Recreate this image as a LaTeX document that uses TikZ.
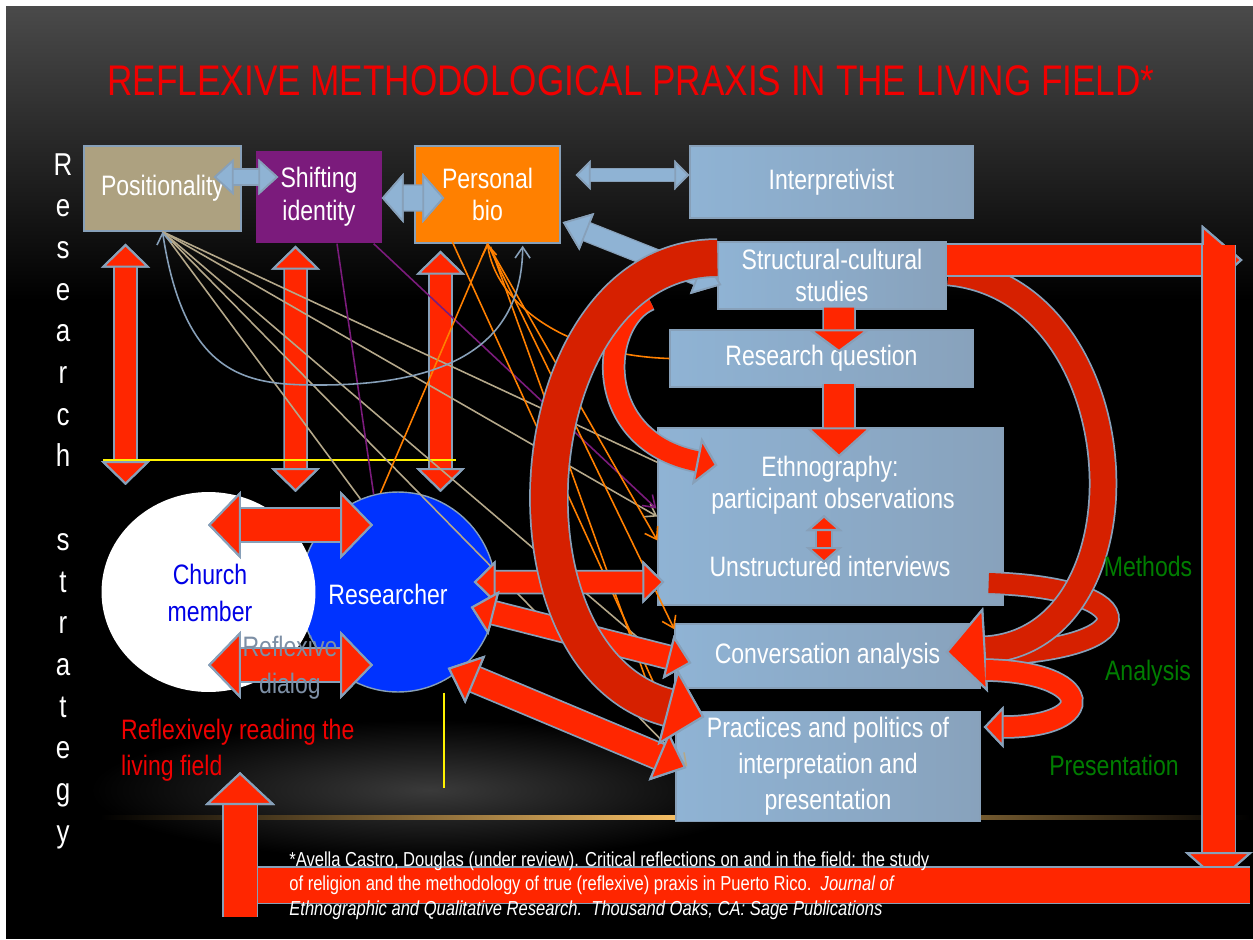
\documentclass[tikz,border=0pt]{standalone}
\usepackage{fontspec}
\setmainfont[FakeStretch=0.82]{Liberation Sans}
\usetikzlibrary{arrows.meta,shapes.geometric,calc}

\definecolor{hotred}{RGB}{255,38,0}
\definecolor{deepred}{RGB}{214,32,0}
\definecolor{rim}{RGB}{135,160,185}
\definecolor{paleblue}{RGB}{143,179,212}
\definecolor{boxshade}{RGB}{136,162,188}
\definecolor{tanbox}{RGB}{173,161,128}
\definecolor{tanline}{RGB}{181,168,138}
\definecolor{plum}{RGB}{123,27,124}
\definecolor{tangerine}{RGB}{255,128,0}
\definecolor{royal}{RGB}{0,51,255}
\definecolor{churchblue}{RGB}{0,0,230}
\definecolor{dialoggray}{RGB}{125,143,165}
\definecolor{leafgreen}{RGB}{0,125,0}
\definecolor{titlered}{RGB}{240,0,0}
\definecolor{slatetop}{RGB}{74,74,74}
\definecolor{glow}{RGB}{58,58,58}
\definecolor{gold}{RGB}{245,190,100}

\tikzset{
  box/.style={draw=rim, line width=0.8pt, text=white, align=center,
    font=\fontsize{16}{18.7}\selectfont},
  bluebox/.style={box, left color=paleblue, right color=boxshade},
  plaintext/.style={text=white, font=\fontsize{16}{18.7}\selectfont},
  greenword/.style={text=leafgreen, font=\fontsize{16}{18.7}\selectfont},
  wire/.style={line width=0.9pt},
  barb/.style={-{Straight Barb[length=0.22cm,width=0.3cm]}},
  backbarb/.style={{Straight Barb[length=0.22cm,width=0.3cm]}-},
  barbs/.style={{Straight Barb[length=0.22cm,width=0.3cm]}-{Straight Barb[length=0.22cm,width=0.3cm]}},
  redband/.style={draw=hotred, line width=#1, preaction={draw=rim, line width=#1+0.07cm}},
  redarrow/.style n args={3}{redband=#1,
    -{Triangle[width=#2,length=#3,fill=hotred,color=rim,line width=1.2pt]}},
  redboth/.style n args={3}{redband=#1,
    {Triangle[width=#2,length=#3,fill=hotred,color=rim,line width=1.2pt]}-{Triangle[width=#2,length=#3,fill=hotred,color=rim,line width=1.2pt]}},
  paleboth/.style n args={3}{draw=paleblue, line width=#1, preaction={draw=rim, line width=#1+0.05cm},
    {Triangle[width=#2,length=#3,fill=paleblue,color=rim,line width=1pt]}-{Triangle[width=#2,length=#3,fill=paleblue,color=rim,line width=1pt]}},
}

\begin{document}
\begin{tikzpicture}[x=0.02cm, y=-0.02cm]
\useasboundingbox (0,0) rectangle (1253,939);

% slide background
\fill[white] (0,0) rectangle (1253,939);
\fill[black] (6,7) rectangle (1253,939);
\shade[top color=slatetop, bottom color=black] (6,7) rectangle (1253,300);
\shade[inner color=glow, outer color=black] (430,790) ellipse [x radius=340, y radius=70];
\shade[left color=black, right color=black, middle color=gold] (100,815) rectangle (1250,819);

% boxes
\node[box, fill=tanbox, minimum width=3.14cm, minimum height=1.7cm] (posit) at (162.5,188.5) {Positionality};
\node[box, draw=none, fill=plum, minimum width=2.52cm, minimum height=1.84cm] (shift) at (319,197) {Shifting\\identity};
\node[box, fill=tangerine, minimum width=2.9cm, minimum height=1.94cm] (bio) at (487.5,194.5) {Personal\\bio};
\node[bluebox, minimum width=5.66cm, minimum height=1.44cm] (interp) at (831.5,182) {Interpretivist};
\node[bluebox, minimum width=4.56cm, minimum height=1.34cm] (struct) at (832,275.5) {Structural-cultural\\studies};
\node[bluebox, minimum width=6.06cm, minimum height=1.14cm] (rq) at (821.5,358.5) {Research question};
\node[bluebox, minimum width=6.9cm, minimum height=3.54cm] (ethno) at (830.5,516.5) {};
\node[bluebox, minimum width=6.1cm, minimum height=1.28cm] (conv) at (827.5,656) {Conversation analysis};
\node[bluebox, minimum width=6.08cm, minimum height=2.02cm, font=\fontsize{16}{20.4}\selectfont] (pract) at (828,766.5)
  {Practices and politics of\\interpretation and\\presentation};
\node[plaintext] (ethnotitle) at (830,469) {Ethnography:};
\node[plaintext] (observe) at (833,501) {participant observations};
\node[plaintext] (interviews) at (830,566) {Unstructured interviews};

% the two sides of the dialog
\node[ellipse, fill=royal, draw=rim, line width=0.8pt, minimum width=3.92cm, minimum height=4cm] (res) at (398,592) {};
\node[ellipse, fill=white, minimum width=4.28cm, minimum height=4cm] (church) at (208.5,592) {};

% research strategy columns
\coordinate (floor) at (103,460);
\coordinate (floorend) at (456,460);
\draw[redboth={0.42cm}{0.98cm}{0.48cm}] ($(posit.south)+(-37,12)$) -- ($(floor)+(22.5,25)$);
\draw[redboth={0.42cm}{0.98cm}{0.48cm}] ($(shift.south)+(-23.5,2)$) -- ($(floor)+(192.5,32)$);
\draw[redboth={0.42cm}{0.98cm}{0.48cm}] ($(bio.south)+(-47,7)$) -- ($(floor)+(337.5,32)$);
\draw[yellow, line width=1.2pt] (floor) -- (floorend);
\draw[yellow, line width=1.2pt] ($(res.south)+(46,0)$) -- ++(0,95);

% pale links between the top boxes
\draw[paleboth={0.3cm}{0.72cm}{0.4cm}] ($(posit.east)+(-28,-11.5)$) -- ($(shift.west)+(23,-20)$);
\draw[paleboth={0.5cm}{1cm}{0.44cm}] ($(shift.east)+(-1,1)$) -- ($(bio.west)+(30,3.5)$);
\draw[paleboth={0.24cm}{0.6cm}{0.3cm}] ($(bio.east)+(15,-19.5)$) -- ($(interp.west)+(0,-7)$);
\draw[paleboth={0.36cm}{0.8cm}{0.52cm}] ($(bio.south east)+(2,-21.5)$) -- ($(struct.west)+(4,9.5)$);

% thin threads
\draw[wire, tanline] (posit.south) -- (res.112);
\draw[wire, tanline, barb] (posit.south) -- (ethno.west);
\draw[wire, tanline] (posit.south) -- ($(ethno.north west)+(0,35)$);
\draw[wire, tanline, barb] (posit.south) -- ($(conv.west)+(-2,11)$);
\draw[wire, tanline, barb] (posit.south) -- ($(pract.west)+(12,0)$);
\draw[wire, plum] ($(shift.south)+(18,0)$) -- (res.104);
\draw[wire, plum, barb] ($(shift.south east)+(-9,0)$) -- ($(ethno.west)+(-1,-8)$);
\draw[wire, tangerine] ($(bio.south west)+(32,-15)$) -- ($(conv.south west)+(-18,0)$);
\draw[wire, tangerine] (bio.south) -- (res.100);
\draw[wire, tangerine, barb] (bio.south) -- ($(ethno.west)+(0,24)$);
\draw[wire, tangerine, barb] (bio.south) -- ($(conv.north west)+(0,6)$);
\draw[wire, tangerine] ($(bio.south)+(3,3)$) -- ($(conv.south west)+(-25,0)$);
\draw[wire, tangerine, backbarb] (bio.south) .. controls (495,300) and (560,355) .. (rq.west);
\draw[wire, rim, barbs] (posit.south) .. controls (185,380) and (250,385) .. (320,385)
  .. controls (470,385) and (522,330) .. ($(bio.south east)+(-38,2)$);

% researcher to the methods
\draw[redboth={0.42cm}{0.86cm}{0.44cm}] ($(res.east)+(-23,-10)$) -- ($(ethno.west)+(7,65.5)$);
\draw[redboth={0.44cm}{0.9cm}{0.48cm}] ($(res.east)+(-26,15)$) -- ($(conv.west)+(17,7)$);
\draw[redboth={0.5cm}{1.04cm}{0.6cm}] ($(res.east)+(-49,76)$) -- ($(pract.west)+(11,1.5)$);
\draw[redboth={0.28cm}{0.72cm}{0.32cm}] ($(ethno.center)+(-6.5,-1.5)$) -- ($(ethno.center)+(-6.5,46.5)$);
\draw[redarrow={0.6cm}{1.24cm}{0.46cm}] ($(struct.south)+(7,-2)$) -- ($(rq.north)+(17.5,23)$);
\draw[redarrow={0.6cm}{1.32cm}{0.6cm}] ($(rq.south)+(17.5,-4)$) -- ($(ethno.north)+(8.5,30)$);

% big curved arrows
\draw[redarrow={0.4cm}{0.96cm}{0.42cm}] ($(struct.west)+(-68,24)$) .. controls (600,320) and (590,440) .. ($(ethno.north west)+(60,38)$);
\draw[redarrow={0.72cm}{1.56cm}{0.76cm}, draw=deepred] ($(struct.west)+(0,-17.5)$) .. controls (518,258) and (488,660) .. ($(pract.north west)+(29,6)$);
\draw[redband=0.4cm, draw=deepred] ($(ethno.east)+(-15,66.5)$) .. controls (1150,588) and (1150,652) .. ($(conv.east)+(-5,-1)$);
\draw[redarrow={0.5cm}{1.7cm}{0.8cm}, draw=deepred] ($(struct.east)+(2,-3.5)$) .. controls (1140,290) and (1155,640) .. ($(conv.east)+(-35,-4)$);
\draw[redarrow={0.4cm}{0.84cm}{0.4cm}] ($(conv.east)+(5,14)$) .. controls (1095,672) and (1100,727) .. ($(pract.east)+(3,-39.5)$);

% outer loop back to the field
\coordinate (loopright) at (1250,885);
\coordinate (loopleft) at (224,885);
\draw[redarrow={0.6cm}{1.4cm}{0.82cm}] ($(struct.east)+(0,-15.5)$) -- ++(296,0);
\draw[redarrow={0.64cm}{1.36cm}{0.6cm}] ($(struct.east)+(272,-30.5)$) -- ++(0,637);
\draw[redband=0.7cm] (loopright) -- (loopleft);
\draw[redarrow={0.66cm}{1.4cm}{0.66cm}] ($(loopleft)+(16,32)$) -- ($(loopleft)+(16,-113)$);

% dialog arrows over the ellipses
\draw[redboth={0.64cm}{1.36cm}{0.66cm}] ($(church.center)+(-0.5,-67)$) -- ($(res.center)+(-25,-67)$);
\draw[redboth={0.64cm}{1.36cm}{0.66cm}] ($(church.center)+(-0.5,73)$) -- ($(res.center)+(-25,73)$);

% texts
\node[text=titlered, font=\fontsize{24.4}{28}\selectfont] (title) at (631,81) {REFLEXIVE METHODOLOGICAL PRAXIS IN THE LIVING FIELD*};
\foreach \ch [count=\k from 0] in {R,e,s,e,a,r,c,h,{},s,t,r,a,t,e,g,y}
  \node[text=white, anchor=base, font=\fontsize{18}{20}\selectfont] (rs\k) at (63,{175+41.7*\k}) {\ch};
\node[align=center, text=churchblue, font=\fontsize{16}{21}\selectfont] (churchname) at (210,593) {Church\\member};
\node[plaintext] (resname) at (388,594) {Researcher};
\node[align=center, text=dialoggray, font=\fontsize{16}{21}\selectfont] (dialog) at (290,668) {Reflexive\\dialog};
\node[anchor=west, align=left, text=titlered, font=\fontsize{16}{20.4}\selectfont] (reading) at (115,750)
  {Reflexively reading the\\living field};
\node[greenword] (methods) at (1148,566) {Methods};
\node[greenword] (analysis) at (1148,673) {Analysis};
\node[greenword] (presentation) at (1114,765) {Presentation};
\node[anchor=north west, align=left, text=white, inner sep=0pt, font=\fontsize{11.5}{14.2}\selectfont] (cite) at (289,851)
  {*Avella Castro, Douglas (under review). Critical reflections on and in the field: the study\\
   of religion and the methodology of true (reflexive) praxis in Puerto Rico.\ \ \textit{Journal of}\\
   \textit{Ethnographic and Qualitative Research.\ \ Thousand Oaks, CA: Sage Publications}};

\end{tikzpicture}
\end{document}
